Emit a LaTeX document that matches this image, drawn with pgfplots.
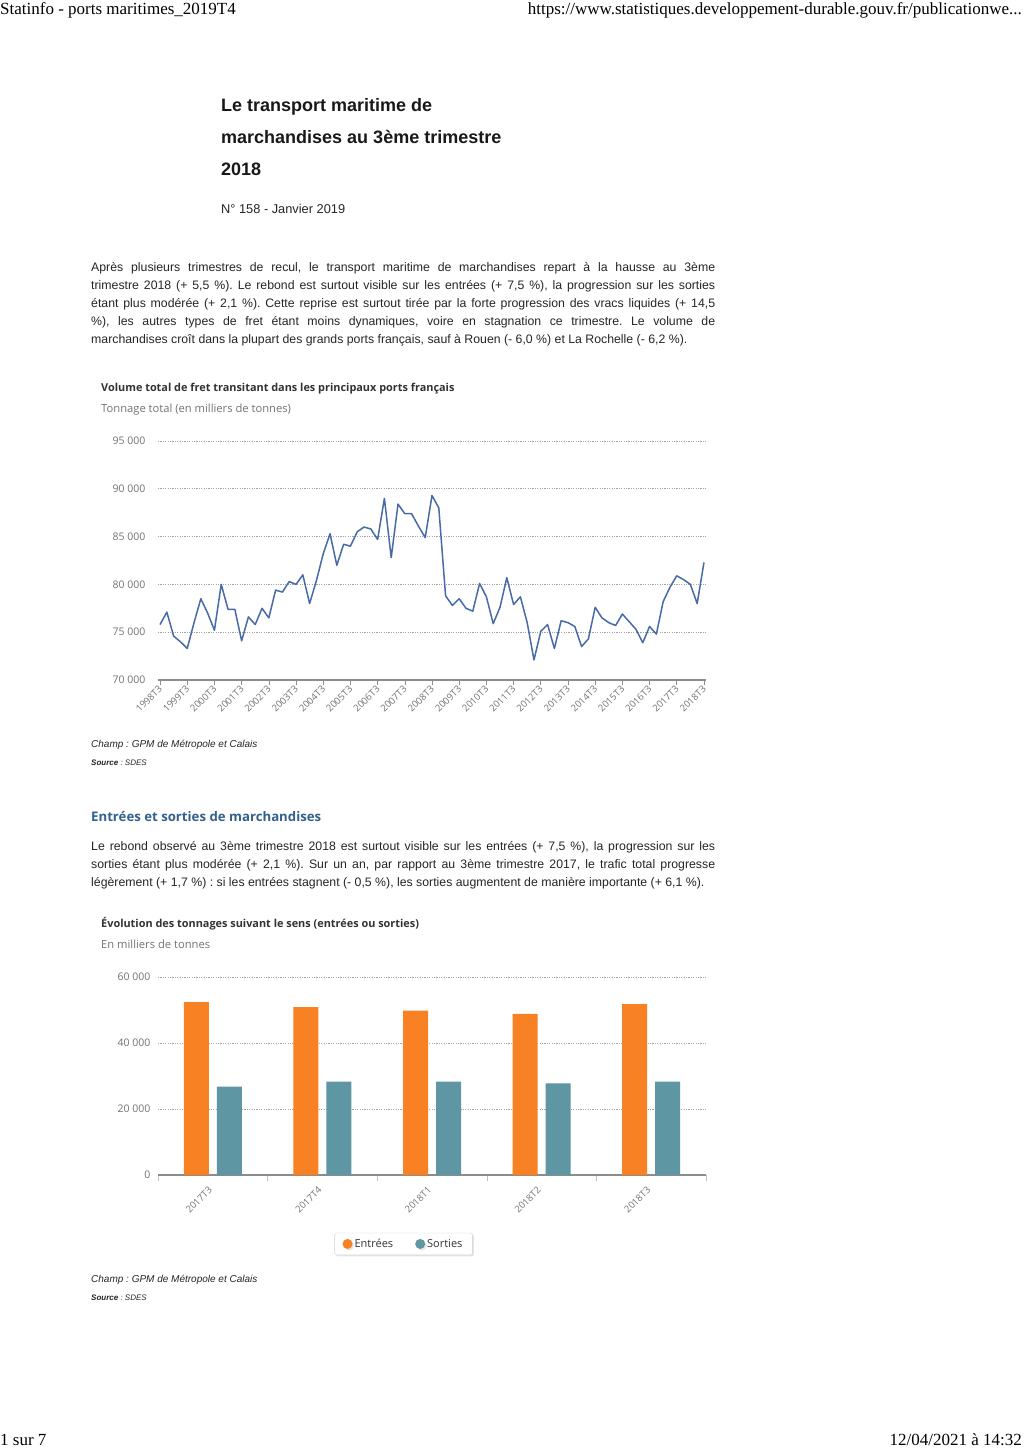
\documentclass[border=0pt]{standalone}
\usepackage{pgfplots}
\pgfplotsset{compat=1.18}
\usepackage{pgfplotstable}
\usetikzlibrary{shadows}
\usepackage{fontspec}
\setmainfont{Liberation Sans}
\newfontfamily\osans{Open Sans}
\newfontfamily\tms{Liberation Serif}
\definecolor{lineblue}{RGB}{72,106,166}
\definecolor{orangebar}{RGB}{248,129,36}
\definecolor{tealbar}{RGB}{94,150,163}
\definecolor{ticklab}{RGB}{115,115,115}
\definecolor{headblue}{RGB}{52,96,140}
\definecolor{titlegray}{RGB}{51,51,51}
\definecolor{gridgray}{RGB}{165,165,165}
\definecolor{axisgray}{RGB}{140,140,140}

\pgfplotstableread{
idx val
0 75800
1 77100
2 74600
3 74000
4 73300
5 76000
6 78500
7 77000
8 75200
9 80000
10 77400
11 77400
12 74100
13 76600
14 75800
15 77500
16 76500
17 79400
18 79200
19 80300
20 80000
21 81000
22 78000
23 80400
24 83200
25 85300
26 82000
27 84200
28 84000
29 85500
30 86000
31 85800
32 84700
33 89000
34 82800
35 88400
36 87400
37 87400
38 86100
39 84900
40 89300
41 88000
42 78800
43 77800
44 78500
45 77500
46 77200
47 80100
48 78700
49 75900
50 77600
51 80700
52 77900
53 78700
54 76000
55 72100
56 75100
57 75800
58 73300
59 76200
60 76000
61 75600
62 73500
63 74300
64 77600
65 76500
66 76000
67 75700
68 76900
69 76100
70 75300
71 73900
72 75600
73 74800
74 78200
75 79700
76 80900
77 80500
78 80000
79 78000
80 82300
}\fretdata

\pgfplotstableread{
idx entrees sorties
0 52400 26800
1 50900 28300
2 49800 28300
3 48800 27800
4 51800 28300
}\sensdata

\newcommand{\pfont}{\fontsize{12.3}{14}\selectfont}
\newcommand{\pline}[2]{\node[anchor=base west,inner sep=0,font=\pfont,text=black!85] at (91pt,-#1pt) {\makebox[624pt][s]{#2}};}
\newcommand{\plast}[2]{\node[anchor=base west,inner sep=0,font=\pfont,text=black!85] at (91pt,-#1pt) {#2};}

\begin{document}
\frenchspacing
\begin{tikzpicture}
\useasboundingbox[fill=white] (0pt,0pt) rectangle (1024pt,-1450pt);

% browser header / footer
\node[anchor=base west,inner sep=0,font=\tms\fontsize{17}{19}\selectfont] at (0pt,-15pt) {Statinfo - ports maritimes\_2019T4};
\node[anchor=base east,inner sep=0,font=\tms\fontsize{17}{19}\selectfont] at (1022pt,-15pt) {https://www.statistiques.developpement-durable.gouv.fr/publicationwe...};
\node[anchor=base west,inner sep=0,font=\tms\fontsize{17}{19}\selectfont] at (0pt,-1445pt) {1 sur 7};
\node[anchor=base east,inner sep=0,font=\tms\fontsize{17}{19}\selectfont] at (1022pt,-1445pt) {12/04/2021 à 14:32};

% title block
\node[anchor=base west,inner sep=0,font=\bfseries\fontsize{18}{21}\selectfont,text=black!90] at (221pt,-112pt) {Le transport maritime de};
\node[anchor=base west,inner sep=0,font=\bfseries\fontsize{18}{21}\selectfont,text=black!90] at (221pt,-144pt) {marchandises au 3ème trimestre};
\node[anchor=base west,inner sep=0,font=\bfseries\fontsize{18}{21}\selectfont,text=black!90] at (221pt,-176pt) {2018};
\node[anchor=base west,inner sep=0,font=\fontsize{12.8}{14}\selectfont,text=black!85] at (221pt,-214pt) {N° 158 - Janvier 2019};

% paragraph 1
\pline{271}{Après plusieurs trimestres de recul, le transport maritime de marchandises repart à la hausse au 3ème}
\pline{289}{trimestre 2018 (+ 5,5 \%). Le rebond est surtout visible sur les entrées (+ 7,5 \%), la progression sur les sorties}
\pline{307}{étant plus modérée (+ 2,1 \%). Cette reprise est surtout tirée par la forte progression des vracs liquides (+ 14,5}
\pline{325}{\%), les autres types de fret étant moins dynamiques, voire en stagnation ce trimestre. Le volume de}
\plast{343}{marchandises croît dans la plupart des grands ports français, sauf à Rouen (- 6,0 \%) et La Rochelle (- 6,2 \%).}

% chart 1 titles
\node[anchor=base west,inner sep=0,font=\osans\bfseries\fontsize{10.9}{12}\selectfont,text=titlegray] at (101pt,-391pt) {Volume total de fret transitant dans les principaux ports français};
\node[anchor=base west,inner sep=0,font=\osans\fontsize{11.2}{12}\selectfont,text=ticklab] at (101pt,-412pt) {Tonnage total (en milliers de tonnes)};

\begin{axis}[
  at={(158pt,-680pt)}, anchor=south west,
  scale only axis, width=548pt, height=239pt,
  xmin=-0.3, xmax=80.3, ymin=70000, ymax=95000,
  scaled y ticks=false,
  ytick={70000,75000,80000,85000,90000,95000},
  yticklabels={70 000,75 000,80 000,85 000,90 000,95 000},
  xtick={0,4,...,80},
  xticklabels={1998T3,1999T3,2000T3,2001T3,2002T3,2003T3,2004T3,2005T3,2006T3,2007T3,2008T3,2009T3,2010T3,2011T3,2012T3,2013T3,2014T3,2015T3,2016T3,2017T3,2018T3},
  ymajorgrids, major grid style={gridgray, dash pattern=on 1.2pt off 1.2pt, line width=0.8pt},
  axis lines*=left,
  y axis line style={draw=none},
  x axis line style={draw=axisgray, line width=1.3pt},
  ytick style={draw=none},
  xtick style={draw=axisgray, line width=0.6pt},
  tick align=outside, major tick length=5pt,
  yticklabel style={font=\osans\fontsize{10.5}{11}\selectfont, text=ticklab, anchor=east, xshift=-4pt},
  xticklabel style={font=\osans\fontsize{9.5}{10}\selectfont, text=ticklab, rotate=45, anchor=east, xshift=2pt, yshift=-2pt},
  clip=false,
]
\addplot[lineblue, line width=1.5pt, line join=round] table[x=idx,y=val] {\fretdata};
\end{axis}

\node[anchor=base west,inner sep=0,font=\itshape\fontsize{10}{11}\selectfont,text=black!85] at (91pt,-747pt) {Champ : GPM de Métropole et Calais};
\node[anchor=base west,inner sep=0,font=\itshape\fontsize{8}{10}\selectfont,text=black!85] at (91pt,-765pt) {\textbf{Source} : SDES};

% heading 2
\node[anchor=base west,inner sep=0,font=\osans\bfseries\fontsize{13.2}{15}\selectfont,text=headblue] at (91pt,-821pt) {Entrées et sorties de marchandises};

% paragraph 2
\pline{850}{Le rebond observé au 3ème trimestre 2018 est surtout visible sur les entrées (+ 7,5 \%), la progression sur les}
\pline{868}{sorties étant plus modérée (+ 2,1 \%). Sur un an, par rapport au 3ème trimestre 2017, le trafic total progresse}
\plast{886}{légèrement (+ 1,7 \%) : si les entrées stagnent (- 0,5 \%), les sorties augmentent de manière importante (+ 6,1 \%).}

% chart 2 titles
\node[anchor=base west,inner sep=0,font=\osans\bfseries\fontsize{10.9}{12}\selectfont,text=titlegray] at (101pt,-927pt) {Évolution des tonnages suivant le sens (entrées ou sorties)};
\node[anchor=base west,inner sep=0,font=\osans\fontsize{11.2}{12}\selectfont,text=ticklab] at (101pt,-948pt) {En milliers de tonnes};

\begin{axis}[
  at={(158pt,-1175pt)}, anchor=south west,
  scale only axis, width=548pt, height=198pt,
  xmin=-0.5, xmax=4.5, ymin=0, ymax=60000,
  scaled y ticks=false,
  ytick={0,20000,40000,60000},
  yticklabels={0,20 000,40 000,60 000},
  xtick={0,1,2,3,4},
  xticklabels={2017T3,2017T4,2018T1,2018T2,2018T3},
  minor xtick={-0.5,0.5,1.5,2.5,3.5,4.5},
  ymajorgrids, major grid style={gridgray, dash pattern=on 1.2pt off 1.2pt, line width=0.8pt},
  axis lines*=left,
  y axis line style={draw=none},
  x axis line style={draw=axisgray, line width=1.3pt},
  ytick style={draw=none},
  major x tick style={draw=none},
  minor x tick style={draw=gray!50, line width=0.6pt},
  tick align=outside, major tick length=0pt, minor tick length=6pt,
  yticklabel style={font=\osans\fontsize{10.5}{11}\selectfont, text=ticklab, anchor=east, xshift=-4pt},
  xticklabel style={font=\osans\fontsize{9.5}{10}\selectfont, text=ticklab, yshift=-11pt, rotate=45, anchor=east},
  ybar, bar width=25pt,
  legend style={at={(0.448,-0.348)}, anchor=center, legend columns=2,
    draw=gray!35, rounded corners=2pt, fill=white,
    drop shadow={opacity=0.2, shadow xshift=1.5pt, shadow yshift=-1.5pt},
    font=\osans\fontsize{11}{13}\selectfont, text=titlegray,
    inner xsep=8pt, inner ysep=4pt,
    /tikz/every even column/.append style={column sep=20pt}},
  legend image code/.code={\fill[#1,draw=none] (4pt,0pt) circle (5pt);},
  clip=false,
]
\addplot[fill=orangebar, draw=none, bar shift=-16.5pt] table[x=idx,y=entrees] {\sensdata};
\addlegendentry{Entrées}
\addplot[fill=tealbar, draw=none, bar shift=16.5pt] table[x=idx,y=sorties] {\sensdata};
\addlegendentry{Sorties}
\end{axis}

\node[anchor=base west,inner sep=0,font=\itshape\fontsize{10}{11}\selectfont,text=black!85] at (91pt,-1282pt) {Champ : GPM de Métropole et Calais};
\node[anchor=base west,inner sep=0,font=\itshape\fontsize{8}{10}\selectfont,text=black!85] at (91pt,-1300pt) {\textbf{Source} : SDES};

\end{tikzpicture}
\end{document}
